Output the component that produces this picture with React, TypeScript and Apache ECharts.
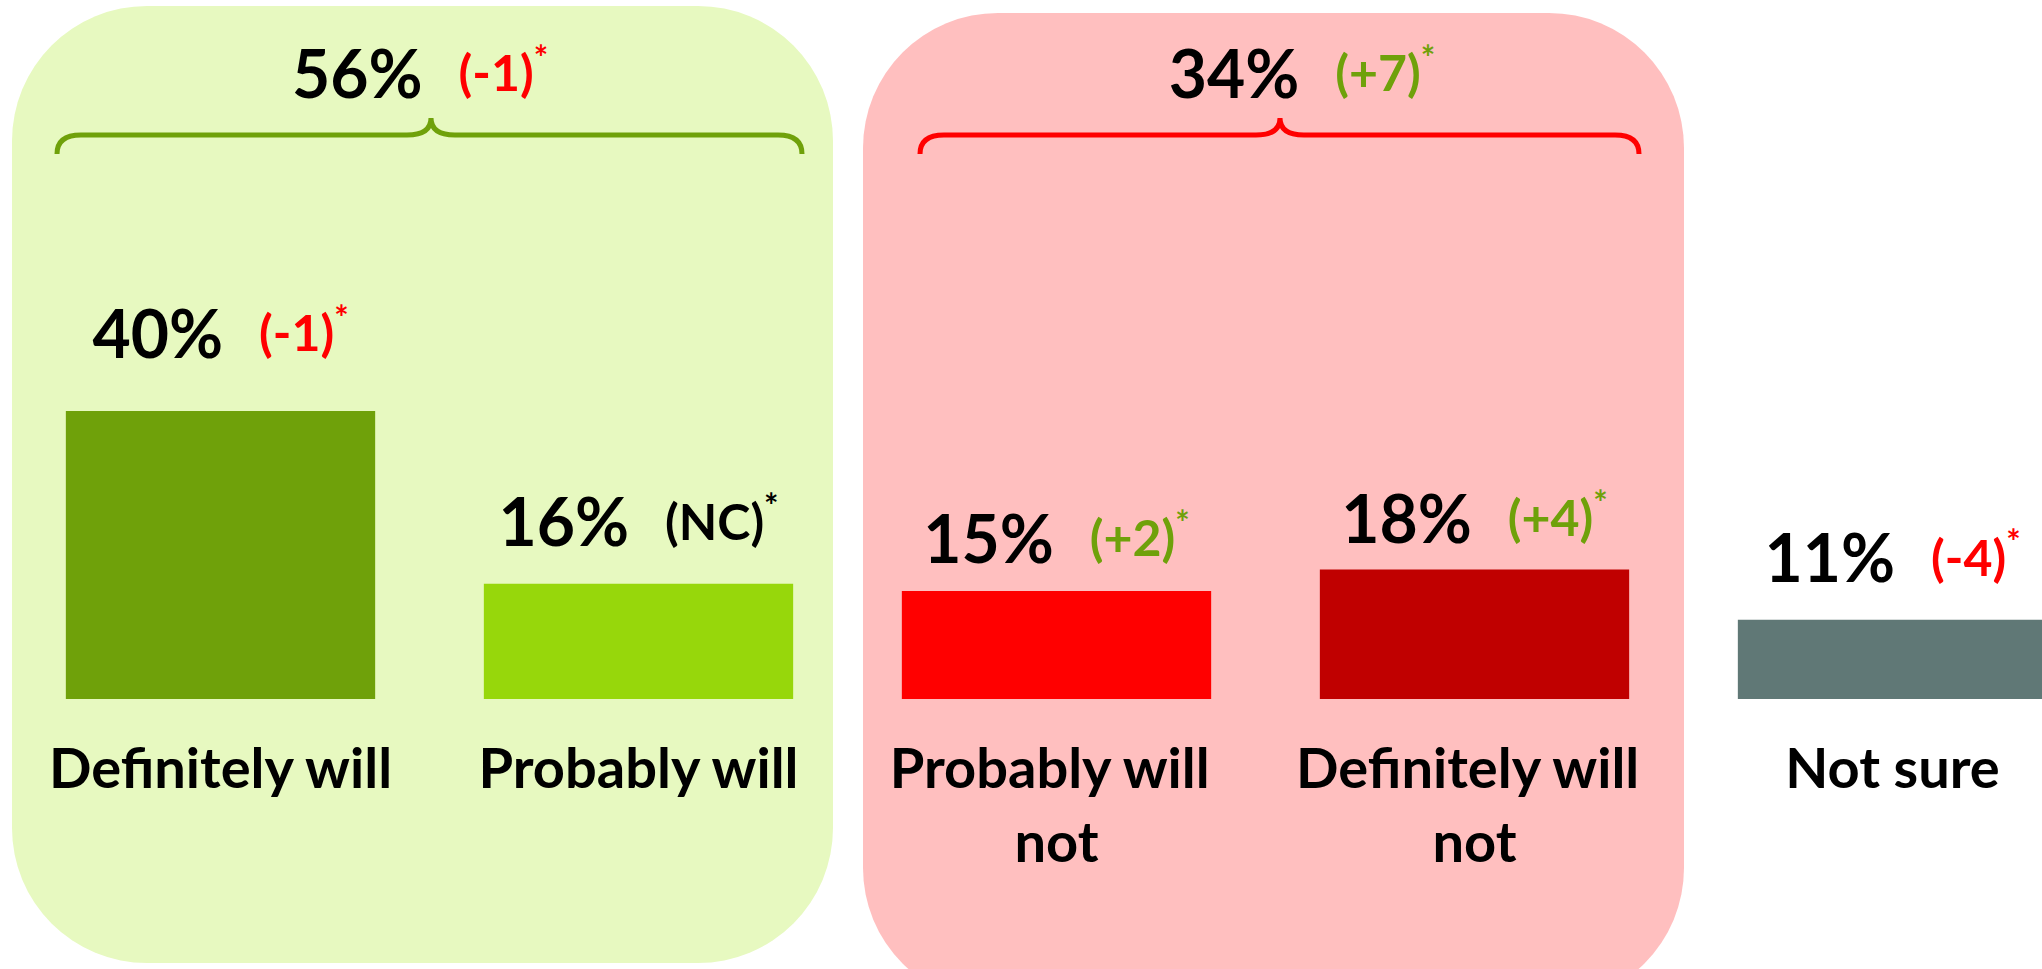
import React, { useEffect, useRef } from "react";
import * as echarts from "echarts";

// ---- data ----
const categories = ["Definitely will", "Probably will", "Probably will not", "Definitely will not", "Not sure"];
const values = [40, 16, 15, 18, 11];
const changes = ["(-1)", "(NC)", "(+2)", "(+4)", "(-4)"];
const barColors = ["#6FA10A", "#97D70B", "#FF0000", "#C00000", "#607876"];
const groupTotals = [56, 34];
const groupChanges = ["(-1)", "(+7)"];

// ---- layout / style ----
const labelDistance = [46, 30, 21, 19, 30];
const FONT = "Lato";
const RED = "#FF0000";
const GREEN = "#6FA10A";

function changeKey(c: string) {
  if (c.indexOf("-") >= 0) return "r";
  if (c.indexOf("+") >= 0) return "g";
  return "b";
}

const tokenColors: Record<string, string> = { r: RED, g: GREEN, b: "#000" };

function makeRich(colorProp: "color" | "fill") {
  const rich: any = {
    v: { fontSize: 66, fontWeight: "bold", fontFamily: FONT, [colorProp]: "#000" },
    gap: { width: 36 },
  };
  Object.keys(tokenColors).forEach((k) => {
    rich["c" + k] = { fontSize: 50, fontWeight: "bold", fontFamily: FONT, verticalAlign: "middle", [colorProp]: tokenColors[k] };
    rich["s" + k] = { fontSize: 34, fontWeight: "bold", fontFamily: FONT, verticalAlign: "top", [colorProp]: tokenColors[k] };
  });
  return rich;
}

const richLabel = makeRich("color");
const richGraphic = makeRich("fill");

function labelText(v: number, c: string) {
  const k = changeKey(c);
  return `{v|${v}%}{gap|}{c${k}|${c}}{s${k}|*}`;
}

function bracePath(x1: number, x2: number, cx: number, yTop: number, yLine: number, yEnd: number) {
  const r = 24;
  return `M${x1} ${yEnd} Q${x1} ${yLine} ${x1 + r} ${yLine} L${cx - r} ${yLine} Q${cx} ${yLine} ${cx} ${yTop} Q${cx} ${yLine} ${cx + r} ${yLine} L${x2 - r} ${yLine} Q${x2} ${yLine} ${x2} ${yEnd}`;
}

echarts.graphic.registerShape("braceGreen", echarts.graphic.extendPath(bracePath(57, 802, 431, 118, 135, 154), {}) as any);
echarts.graphic.registerShape("braceRed", echarts.graphic.extendPath(bracePath(920, 1639, 1280, 118, 135, 154), {}) as any);

export default function App() {
  const ref = useRef<HTMLDivElement>(null);
  useEffect(() => {
    document.body.style.margin = "0";
    document.body.style.overflow = "hidden";
    const chart = echarts.init(ref.current!, undefined, { renderer: "svg" });
    chart.setOption({
      animation: false,
      backgroundColor: "#FFFFFF",
      grid: { left: 11.5, width: 2090, top: 267, bottom: 270, containLabel: false },
      xAxis: {
        type: "category",
        data: categories,
        axisLine: { show: false },
        axisTick: { show: false },
        axisLabel: {
          interval: 0,
          margin: 30,
          fontSize: 56,
          fontWeight: "bold",
          color: "#000",
          fontFamily: FONT,
          lineHeight: 74,
          width: 380,
          overflow: "break",
        },
      },
      yAxis: { type: "value", min: 0, max: 60, show: false, splitLine: { show: false } },
      graphic: [
        {
          type: "rect",
          z: 0,
          shape: { x: 12, y: 6, width: 821, height: 957, r: 135 },
          style: { fill: "#E7F9C0" },
        },
        {
          type: "rect",
          z: 0,
          shape: { x: 863, y: 13, width: 821, height: 990, r: 135 },
          style: { fill: "#FFBFBF" },
        },
        { type: "braceGreen", z: 1, x: 0, y: 0, style: { stroke: GREEN, lineWidth: 5, fill: null } },
        { type: "braceRed", z: 1, x: 0, y: 0, style: { stroke: RED, lineWidth: 5, fill: null } },
        {
          type: "text",
          z: 1,
          x: 420,
          y: 72,
          style: {
            text: labelText(groupTotals[0], groupChanges[0]),
            rich: richGraphic,
            align: "center",
            verticalAlign: "middle",
          },
        },
        {
          type: "text",
          z: 1,
          x: 1302,
          y: 72,
          style: {
            text: labelText(groupTotals[1], groupChanges[1]),
            rich: richGraphic,
            align: "center",
            verticalAlign: "middle",
          },
        },
      ],
      series: [
        {
          type: "bar",
          barCategoryGap: "26%",
          data: values.map((v, i) => ({
            value: v,
            itemStyle: { color: barColors[i] },
            label: { distance: labelDistance[i] },
          })),
          label: {
            show: true,
            position: "top",
            formatter: (p: any) => labelText(values[p.dataIndex], changes[p.dataIndex]),
            rich: richLabel,
          },
        },
      ],
    });
    return () => chart.dispose();
  }, []);
  return <div ref={ref} style={{ width: 2110, height: 969 }} />;
}
